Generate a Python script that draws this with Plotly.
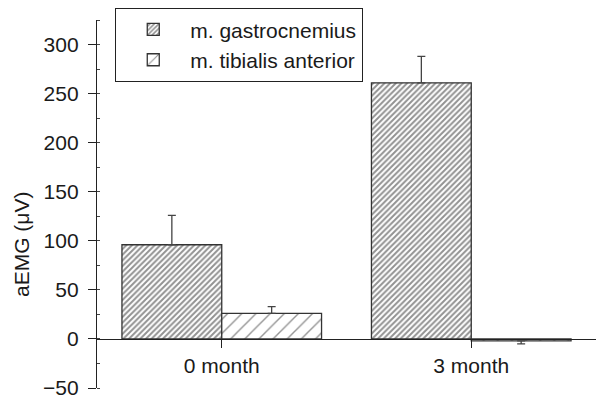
import plotly.graph_objects as go

categories = ["0 month", "3 month"]
gastro_values = [96, 261]
gastro_err = [30, 27]
tibialis_values = [26, -2]
tibialis_err_up = [7, 0]
tibialis_err_down = [0, 3]
y_ticks = [-50, 0, 50, 100, 150, 200, 250, 300]
y_range = [-50, 325]
y_title = "aEMG (μV)"

font = "Liberation Sans, Arial, sans-serif"
edge = "#333333"

fig = go.Figure()
fig.add_trace(go.Bar(
    name="m. gastrocnemius", x=categories, y=gastro_values,
    marker=dict(color="white", line=dict(color=edge, width=1.3),
                pattern=dict(shape="/", size=4, solidity=0.5, fgcolor="#262626", bgcolor="white")),
    error_y=dict(type="data", array=gastro_err, arrayminus=[0, 0], symmetric=False,
                 color="#444", thickness=1.3, width=4),
))
fig.add_trace(go.Bar(
    name="m. tibialis anterior", x=categories, y=tibialis_values,
    marker=dict(color="white", line=dict(color=edge, width=1.3),
                pattern=dict(shape="/", size=10, solidity=0.14, fgcolor="#2a2a2a", bgcolor="white")),
    error_y=dict(type="data", array=tibialis_err_up, arrayminus=tibialis_err_down, symmetric=False,
                 color="#444", thickness=1.3, width=4),
))

pos0 = (0 - y_range[0]) / (y_range[1] - y_range[0])

fig.update_layout(
    width=596, height=399,
    margin=dict(l=97, r=0, t=20, b=11, autoexpand=False),
    plot_bgcolor="white", paper_bgcolor="white",
    barmode="group", bargap=0.2, bargroupgap=0,
    font=dict(family=font, size=21, color="#1a1a1a"),
    showlegend=True,
    legend=dict(x=0.036, y=1.0326, xanchor="left", yanchor="top",
                bordercolor="#222", borderwidth=1.3, bgcolor="white",
                font=dict(size=21), tracegroupgap=0, itemwidth=64),
    xaxis=dict(range=[-0.5, 1.5], anchor="free", position=pos0,
               showline=True, linecolor="#222", linewidth=1.3,
               ticks="outside", ticklen=8, tickcolor="#222", tickwidth=1.3,
               showgrid=False, zeroline=False, ticklabeloverflow="allow",
               tickfont=dict(size=21)),
    yaxis=dict(range=y_range, tickvals=y_ticks, showline=True, linecolor="#222", linewidth=1.3,
               ticks="outside", ticklen=8, tickcolor="#222", tickwidth=1.3,
               showgrid=False, zeroline=False, ticklabeloverflow="allow",
               ticklabelstandoff=5,
               minor=dict(dtick=25, ticks="inside", ticklen=3, tickcolor="#444", tickwidth=1),
               tickfont=dict(size=21)),
    annotations=[dict(text=y_title, textangle=-90, xref="paper", yref="paper",
                      x=-0.150, y=0.389, xanchor="center", yanchor="middle",
                      showarrow=False, font=dict(size=21))],
)

fig.write_html("out.html", config={"displayModeBar": False},
               post_script="document.body.style.margin='0';")
